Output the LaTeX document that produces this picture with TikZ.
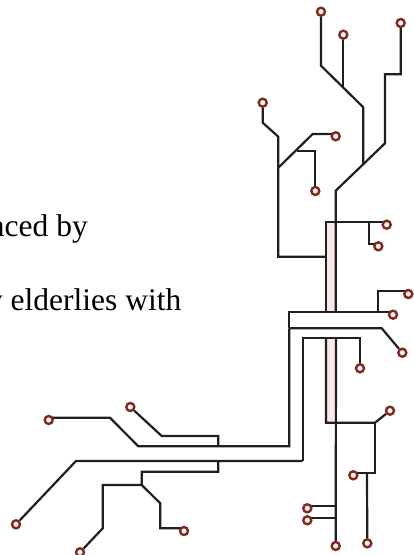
\documentclass[tikz,border=0pt]{standalone}
\usepackage{fontspec}
\setmainfont{Liberation Serif}
\usetikzlibrary{calc,backgrounds}
\definecolor{pinred}{HTML}{7E2A20}
\definecolor{pinfill}{HTML}{FBF3F0}
\definecolor{barpink}{HTML}{F9E9E6}
\begin{document}
\begin{tikzpicture}[x=1pt,y=-1pt,
  pin/.style={circle,draw=pinred,fill=pinfill,line width=2.4pt,minimum size=8pt,inner sep=0pt},
  wire/.style={line width=2.2pt,black!88,line join=miter},
  bar/.style={fill=barpink,draw=none},
  txt/.style={font=\fontsize{31.5}{36}\selectfont,anchor=base east,inner sep=0pt}]
\useasboundingbox (0,0) rectangle (414,555);
\begin{scope}
\clip (0,0) rectangle (414,555);
\node[txt] (l1) at (88,236) {nced by};
\node[txt] (l2) at (181.5,310) {y elderlies with};
\end{scope}
% pins, top crown
\node[pin] (a) at (321,11.7) {};
\node[pin] (b) at (343.3,34.7) {};
\node[pin] (c) at (400.7,23) {};
\node[pin] (d) at (262.7,102.7) {};
\node[pin] (e) at (335.7,136.3) {};
\node[pin] (f) at (315.3,191) {};
% pins, right side
\node[pin] (g) at (386.7,224.7) {};
\node[pin] (h) at (378.3,246.3) {};
\node[pin] (i) at (408.3,294) {};
\node[pin] (j) at (393,314.7) {};
\node[pin] (k) at (402.3,352.7) {};
\node[pin] (l) at (360,368.3) {};
\node[pin] (m) at (390,410.7) {};
\node[pin] (n) at (353.3,475.3) {};
\node[pin] (o) at (367.3,543.3) {};
\node[pin] (p) at (335.7,546) {};
\node[pin] (q) at (307.3,508.3) {};
\node[pin] (r) at (307.3,520.3) {};
% pins, lower left
\node[pin] (s) at (48.7,420) {};
\node[pin] (t) at (130.3,407) {};
\node[pin] (u) at (16,524.3) {};
\node[pin] (v) at (80,552.3) {};
\node[pin] (w) at (184,531) {};
% joints
\coordinate (crown) at (363.3,163.3);
\coordinate (forkb) at (343.3,87.3);
\coordinate (forkl) at (278.3,167.7);
\coordinate (forke) at (296.7,150.7);
\coordinate (forkg) at (368.7,222.3);
\coordinate (topbar) at (326,222.3);
\coordinate (midl) at (278.3,256.7);
\coordinate (upbus) at (289.3,312);
\coordinate (lowbus) at (289.3,328.3);
\coordinate (forki) at (377.7,312);
\coordinate (forkm) at (375,422.7);
\coordinate (forkn) at (367,472.7);
\coordinate (busa) at (218.3,446.3);
\coordinate (busb) at (218.3,461);
\coordinate (forkw) at (141.7,485);
\begin{scope}[on background layer]
% the two pale strips behind the trunk
\fill[bar] (326,222) rectangle (336,312);
\fill[bar] (326,338) rectangle (336,423);
% top crown
\draw[wire] (a) -- (321,65.7) -- (363.3,107.3) -- (crown);
\draw[wire] (b) -- (forkb);
\draw[wire] (c) -- (400.7,74.3) -- (385,74.3) -- (385,143.3) -- (335.7,190.7) -- (335.7,312);
\draw[wire] (d) -- (262.7,122.7) -- (278.3,136.7) -- (midl) -- (326,256.7);
\draw[wire] (forkl) -- (312.7,134) -- ($(e)+(0,-2.3)$);
\draw[wire] (forke) -- (315.3,150.7) -- (f);
% upper strip and its branches
\draw[wire] (326,312) -- (topbar) -- ($(g)+(0,-2.4)$);
\draw[wire] (forkg) -- (368.7,244) -- ($(h)+(0,-2.3)$);
\draw[wire] (lowbus) -- (upbus) -- ($(j)+(0,-2.7)$);
\draw[wire] (forki) -- (377.7,291.3) -- ($(i)+(0,-2.7)$);
\draw[wire] (lowbus) -- (381.7,328.3) -- (k);
\draw[wire] (302.7,461) -- (302.7,338.3) -- (360,338.3) -- (l);
% lower strip and trunk
\draw[wire] (326,338.3) -- (326,422.7) -- (forkm) -- (m);
\draw[wire] (336,338.3) -- (p);
\draw[wire] (forkm) -- (375,472.7) -- ($(n)+(0,-2.6)$);
\draw[wire] (forkn) -- (o);
\draw[wire] ($(q)+(0,-2.3)$) -- (336,506);
\draw[wire] ($(r)+(0,-2.6)$) -- (336,517.7);
% long buses to the left
\draw[wire] (lowbus) -- (289.3,446.3) -- (138.3,446.3) -- (110,417.7) -- ($(s)+(0,-2.3)$);
\draw[wire] (t) -- (161.7,436) -- (218.3,436) -- (busa);
\draw[wire] (302.7,461) -- (76,461) -- (u);
\draw[wire] (busb) -- (218.3,471.7) -- (141.7,471.7) -- (forkw) -- (102.7,485) -- (102.7,528.3) -- (v);
\draw[wire] (forkw) -- (160.3,503.3) -- (160.3,528.3) -- ($(w)+(0,-2.7)$);
\end{scope}
\end{tikzpicture}
\end{document}
